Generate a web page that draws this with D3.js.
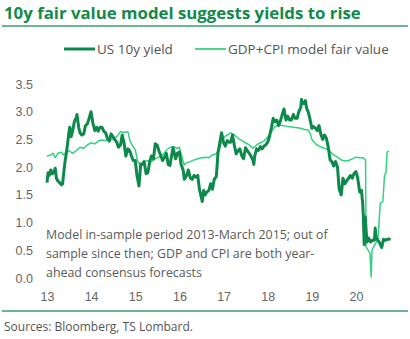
<!DOCTYPE html>
<html>
<head>
<meta charset="utf-8">
<title>10y fair value model</title>
<script src="https://cdn.jsdelivr.net/npm/d3@7/dist/d3.min.js"></script>
<style>
  body { margin: 0; background: #fff; }
  svg { display: block; font-family: 'Open Sans', 'Noto Sans', sans-serif; }
  .title { font-size: 15.5px; font-weight: bold; fill: #138a4a; }
  .tick-label { font-size: 12.5px; fill: #666; }
  .legend-text { font-size: 13.5px; fill: #555; }
  .note { font-size: 12.4px; fill: #5a5a5a; }
  .source { font-size: 12px; fill: #555; }
</style>
</head>
<body>
<div id="chart"></div>
<script>
// US 10y yield, roughly semi-monthly
const yieldSeries = [
  ["2013-01-01",1.72],["2013-01-10",1.90],["2013-01-20",1.85],["2013-02-01",1.95],["2013-02-15",1.88],
  ["2013-03-01",1.92],["2013-03-10",1.98],["2013-03-20",1.80],["2013-04-01",1.75],["2013-04-15",1.72],
  ["2013-05-01",1.68],["2013-05-10",1.70],["2013-05-22",1.95],["2013-06-01",2.13],["2013-06-10",2.25],
  ["2013-06-20",2.42],["2013-07-01",2.62],["2013-07-08",2.72],["2013-07-20",2.55],["2013-08-01",2.65],
  ["2013-08-15",2.82],["2013-09-01",2.90],["2013-09-06",2.95],["2013-09-20",2.72],["2013-10-01",2.62],
  ["2013-10-15",2.58],["2013-11-01",2.60],["2013-11-15",2.75],["2013-12-01",2.78],["2013-12-15",2.88],
  ["2013-12-31",3.00],["2014-01-15",2.80],["2014-02-01",2.66],["2014-02-15",2.72],["2014-03-01",2.65],
  ["2014-03-15",2.72],["2014-04-01",2.72],["2014-04-15",2.65],["2014-05-01",2.62],["2014-05-15",2.52],
  ["2014-06-01",2.47],["2014-06-15",2.60],["2014-07-01",2.55],["2014-07-15",2.50],["2014-08-01",2.45],
  ["2014-08-15",2.36],["2014-09-01",2.40],["2014-09-15",2.58],["2014-10-01",2.43],["2014-10-15",2.20],
  ["2014-11-01",2.33],["2014-11-15",2.30],["2014-12-01",2.20],["2014-12-15",2.12],["2015-01-01",2.12],
  ["2015-01-15",1.85],["2015-02-01",1.66],["2015-02-15",2.05],["2015-03-01",2.05],["2015-03-15",2.10],
  ["2015-04-01",1.88],["2015-04-15",1.90],["2015-05-01",2.10],["2015-05-15",2.20],["2015-06-01",2.15],
  ["2015-06-15",2.42],["2015-07-01",2.40],["2015-07-15",2.30],["2015-08-01",2.20],["2015-08-15",2.12],
  ["2015-09-01",2.18],["2015-09-15",2.25],["2015-10-01",2.05],["2015-10-15",2.03],["2015-11-01",2.25],
  ["2015-11-10",2.35],["2015-11-20",2.25],["2015-12-01",2.15],["2015-12-15",2.25],["2016-01-01",2.27],
  ["2016-01-15",2.05],["2016-02-01",1.95],["2016-02-11",1.78],["2016-03-01",1.85],["2016-03-15",1.95],
  ["2016-04-01",1.80],["2016-04-15",1.78],["2016-05-01",1.85],["2016-05-15",1.82],["2016-06-01",1.85],
  ["2016-06-15",1.60],["2016-07-01",1.45],["2016-07-08",1.38],["2016-07-20",1.58],["2016-08-01",1.50],
  ["2016-08-15",1.55],["2016-09-01",1.58],["2016-09-15",1.70],["2016-10-01",1.60],["2016-10-15",1.78],
  ["2016-11-01",1.83],["2016-11-09",2.05],["2016-11-15",2.25],["2016-12-01",2.45],["2016-12-15",2.62],
  ["2017-01-01",2.44],["2017-01-15",2.38],["2017-02-01",2.48],["2017-02-15",2.45],["2017-03-01",2.45],
  ["2017-03-15",2.58],["2017-04-01",2.38],["2017-04-15",2.24],["2017-05-01",2.30],["2017-05-15",2.33],
  ["2017-06-01",2.20],["2017-06-15",2.15],["2017-07-01",2.35],["2017-07-15",2.30],["2017-08-01",2.25],
  ["2017-08-15",2.20],["2017-09-01",2.12],["2017-09-08",2.05],["2017-09-15",2.20],["2017-10-01",2.33],
  ["2017-10-15",2.30],["2017-11-01",2.37],["2017-11-15",2.33],["2017-12-01",2.38],["2017-12-15",2.40],
  ["2018-01-01",2.45],["2018-01-15",2.55],["2018-02-01",2.72],["2018-02-15",2.88],["2018-03-01",2.82],
  ["2018-03-15",2.85],["2018-04-01",2.75],["2018-04-15",2.83],["2018-05-01",2.95],["2018-05-15",3.05],
  ["2018-06-01",2.85],["2018-06-15",2.92],["2018-07-01",2.85],["2018-07-15",2.85],["2018-08-01",2.95],
  ["2018-08-15",2.88],["2018-09-01",2.88],["2018-09-15",3.00],["2018-10-01",3.08],["2018-10-08",3.22],
  ["2018-10-15",3.15],["2018-11-01",3.15],["2018-11-08",3.20],["2018-11-20",3.05],["2018-12-01",3.00],
  ["2018-12-15",2.88],["2019-01-01",2.70],["2019-01-15",2.73],["2019-02-01",2.70],["2019-02-15",2.66],
  ["2019-03-01",2.75],["2019-03-15",2.60],["2019-04-01",2.50],["2019-04-15",2.58],["2019-05-01",2.52],
  ["2019-05-15",2.38],["2019-06-01",2.13],["2019-06-15",2.10],["2019-07-01",2.02],["2019-07-15",2.10],
  ["2019-08-01",2.00],["2019-08-15",1.60],["2019-09-01",1.50],["2019-09-15",1.80],["2019-10-01",1.70],
  ["2019-10-15",1.75],["2019-11-01",1.80],["2019-11-15",1.85],["2019-12-01",1.80],["2019-12-15",1.88],
  ["2020-01-01",1.92],["2020-01-15",1.80],["2020-02-01",1.55],["2020-02-15",1.58],["2020-02-25",1.35],
  ["2020-03-01",1.15],["2020-03-09",0.60],["2020-03-15",0.75],["2020-03-18",1.10],["2020-03-25",0.85],
  ["2020-04-01",0.65],["2020-04-15",0.72],["2020-05-01",0.65],["2020-05-15",0.68],["2020-06-01",0.68],
  ["2020-06-08",0.90],["2020-06-15",0.72],["2020-07-01",0.68],["2020-07-15",0.63],["2020-08-01",0.55],
  ["2020-08-15",0.70],["2020-09-01",0.68],["2020-09-15",0.70],["2020-10-01",0.70],["2020-10-09",0.72]
];

// GDP+CPI model fair value, roughly monthly
const fairValueSeries = [
  ["2013-01-01",2.20],["2013-02-01",2.22],["2013-02-20",2.25],["2013-03-10",2.17],["2013-04-01",2.25],
  ["2013-05-01",2.27],["2013-05-15",2.22],["2013-06-10",2.27],["2013-07-01",2.30],["2013-08-01",2.25],
  ["2013-09-01",2.30],["2013-10-01",2.36],["2013-11-01",2.34],["2013-12-01",2.40],["2014-01-01",2.44],
  ["2014-02-01",2.42],["2014-03-01",2.47],["2014-04-01",2.49],["2014-05-01",2.48],["2014-06-01",2.50],
  ["2014-07-01",2.50],["2014-08-01",2.55],["2014-09-01",2.64],["2014-10-01",2.63],["2014-11-01",2.64],
  ["2014-11-20",2.46],["2014-12-15",2.37],["2015-01-01",2.31],["2015-01-22",2.10],["2015-02-15",2.05],
  ["2015-03-15",2.10],["2015-04-15",2.12],["2015-05-15",2.10],["2015-06-15",2.15],["2015-07-15",2.18],
  ["2015-08-15",2.22],["2015-09-15",2.30],["2015-10-15",2.36],["2015-11-15",2.37],["2015-12-15",2.34],
  ["2016-01-01",2.36],["2016-01-20",2.20],["2016-02-10",2.04],["2016-03-01",2.08],["2016-04-01",2.10],
  ["2016-05-01",2.13],["2016-06-01",2.15],["2016-07-01",2.17],["2016-08-01",2.18],["2016-09-01",2.17],
  ["2016-10-01",2.22],["2016-11-01",2.24],["2016-12-01",2.35],["2016-12-20",2.50],["2017-01-10",2.55],
  ["2017-02-01",2.58],["2017-03-01",2.62],["2017-04-01",2.58],["2017-05-01",2.52],["2017-06-01",2.48],
  ["2017-07-01",2.44],["2017-08-01",2.40],["2017-09-01",2.34],["2017-10-01",2.40],["2017-11-01",2.44],
  ["2017-12-01",2.47],["2018-01-01",2.55],["2018-02-01",2.64],["2018-03-01",2.73],["2018-04-01",2.76],
  ["2018-05-01",2.75],["2018-06-01",2.74],["2018-07-01",2.73],["2018-08-01",2.72],["2018-09-01",2.71],
  ["2018-10-01",2.70],["2018-11-01",2.68],["2018-12-01",2.67],["2018-12-20",2.60],["2019-01-01",2.50],
  ["2019-02-01",2.42],["2019-03-01",2.38],["2019-04-01",2.35],["2019-05-01",2.33],["2019-06-01",2.28],
  ["2019-07-01",2.22],["2019-08-01",2.18],["2019-09-01",2.13],["2019-10-01",2.11],["2019-11-01",2.12],
  ["2019-12-01",2.15],["2020-01-01",2.18],["2020-02-01",2.17],["2020-03-01",2.17],["2020-03-20",2.13],
  ["2020-03-24",0.56],["2020-04-05",0.52],["2020-04-25",0.45],["2020-05-06",0.02],["2020-05-12",0.50],
  ["2020-05-25",0.56],["2020-06-28",0.69],["2020-07-05",0.81],["2020-07-12",1.10],["2020-07-20",1.35],
  ["2020-08-10",1.38],["2020-08-24",1.85],["2020-09-05",1.90],["2020-09-14",2.27],["2020-09-28",2.29]
];

const yTicks = [0, 0.5, 1.0, 1.5, 2.0, 2.5, 3.0, 3.5];
const xTickYears = [2013, 2014, 2015, 2016, 2017, 2018, 2019, 2020];

const seriesNames = ["US 10y yield", "GDP+CPI model fair value"];
const noteLines = [
  "Model in-sample period 2013-March 2015; out of",
  "sample since then; GDP and CPI are both year-",
  "ahead consensus forecasts"
];

const width = 410, height = 339;
const darkGreen = "#0d8a4b";
const lightGreen = "#33d27f";
const ruleGreen = "#3a9e69";

const parse = d3.timeParse("%Y-%m-%d");
const yieldData = yieldSeries.map(d => ({ date: parse(d[0]), value: d[1] }));
const fairData = fairValueSeries.map(d => ({ date: parse(d[0]), value: d[1] }));

const x = d3.scaleTime()
  .domain([new Date(2013, 0, 1), new Date(2020, 0, 1)])
  .range([47, 356]);

const y = d3.scaleLinear()
  .domain([0, 3.5])
  .range([278, 84]);

const svg = d3.select('#chart')
  .append('svg')
  .attr('width', width)
  .attr('height', height);

// title, sized so it spans the same width as the reference
const title = svg.append('text')
  .attr('class', 'title')
  .attr('x', 4)
  .attr('y', 18.5)
  .text('10y fair value model suggests yields to rise');
const titleW = title.node().getComputedTextLength();
title.style('font-size', (15.5 * 357 / titleW).toFixed(2) + 'px');

svg.append('line')
  .attr('x1', 2).attr('x2', 408)
  .attr('y1', 26).attr('y2', 26)
  .attr('stroke', ruleGreen)
  .attr('stroke-width', 1.5);

svg.append('line')
  .attr('x1', 2).attr('x2', 408)
  .attr('y1', 311).attr('y2', 311)
  .attr('stroke', ruleGreen)
  .attr('stroke-width', 1.5);

// legend
const legend = svg.append('g');
const legendItems = [
  { name: seriesNames[0], color: darkGreen, width: 3, x: 64 },
  { name: seriesNames[1], color: lightGreen, width: 1.8, x: 195 }
];
legendItems.forEach(item => {
  legend.append('line')
    .attr('x1', item.x).attr('x2', item.x + 31)
    .attr('y1', 49).attr('y2', 49)
    .attr('stroke', item.color)
    .attr('stroke-width', item.width);
  legend.append('text')
    .attr('class', 'legend-text')
    .attr('x', item.x + 33)
    .attr('y', 54)
    .text(item.name);
});

// y axis labels
const yAxis = d3.axisLeft(y)
  .tickValues(yTicks)
  .tickFormat(d3.format('.1f'))
  .tickSize(0)
  .tickPadding(0);

svg.append('g')
  .attr('transform', 'translate(33,0)')
  .call(yAxis)
  .call(g => g.select('.domain').remove())
  .call(g => g.selectAll('text')
    .attr('class', 'tick-label')
    .attr('font-family', null)
    .attr('font-size', null));

// x axis labels
const xAxis = d3.axisBottom(x)
  .tickValues(xTickYears.map(yr => new Date(yr, 0, 1)))
  .tickFormat(d3.timeFormat('%y'))
  .tickSize(0)
  .tickPadding(0);

svg.append('g')
  .attr('transform', 'translate(0,292)')
  .call(xAxis)
  .call(g => g.select('.domain').remove())
  .call(g => g.selectAll('text')
    .attr('class', 'tick-label')
    .attr('font-family', null)
    .attr('font-size', null));

// lines
const line = d3.line()
  .x(d => x(d.date))
  .y(d => y(d.value));

svg.append('path')
  .datum(fairData)
  .attr('fill', 'none')
  .attr('stroke', lightGreen)
  .attr('stroke-width', 1.5)
  .attr('stroke-linejoin', 'round')
  .attr('d', line);

svg.append('path')
  .datum(yieldData)
  .attr('fill', 'none')
  .attr('stroke', darkGreen)
  .attr('stroke-width', 3)
  .attr('stroke-linejoin', 'round')
  .attr('d', line);

// note
svg.append('g')
  .selectAll('text')
  .data(noteLines)
  .enter()
  .append('text')
  .attr('class', 'note')
  .attr('x', 46)
  .attr('y', (d, i) => 239 + i * 19)
  .text(d => d);

svg.append('text')
  .attr('class', 'source')
  .attr('x', 4)
  .attr('y', 331)
  .text('Sources: Bloomberg, TS Lombard.');
</script>
</body>
</html>
